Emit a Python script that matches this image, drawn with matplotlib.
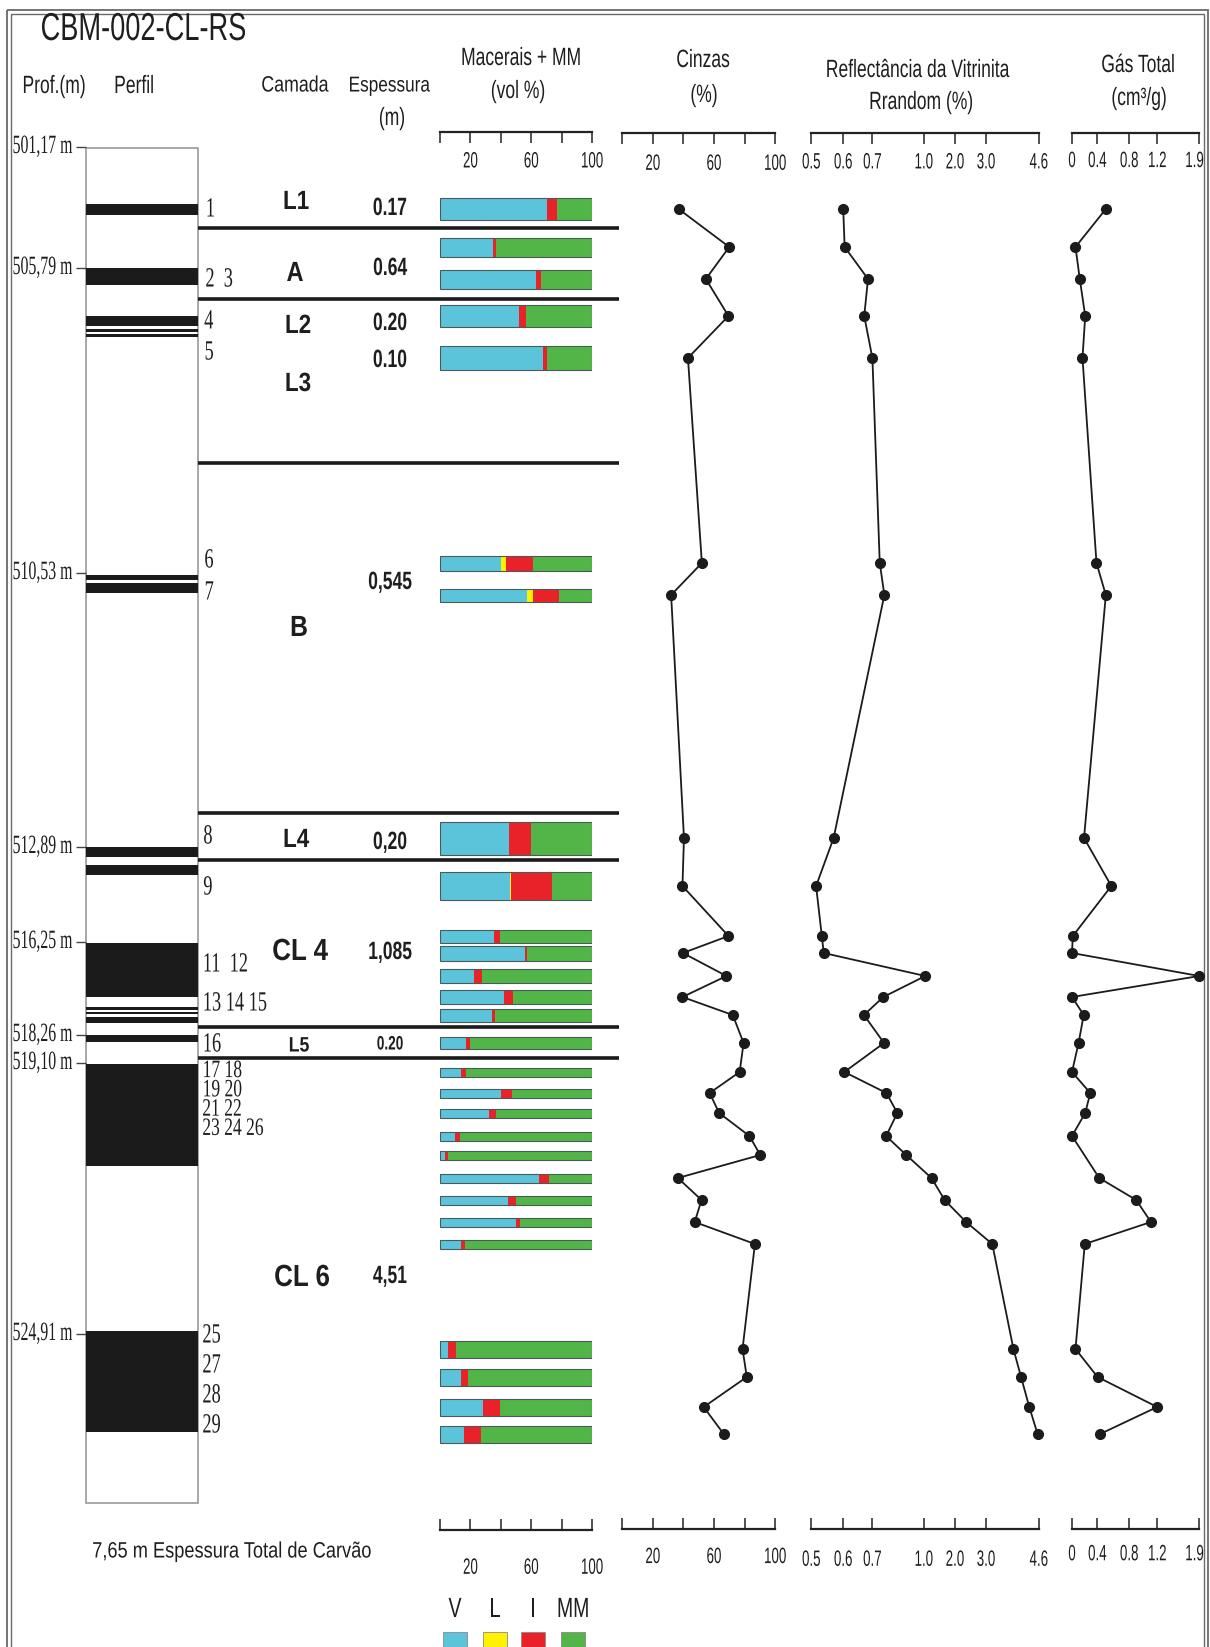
import numpy as np
import matplotlib
matplotlib.use("Agg")
import matplotlib.pyplot as plt
from matplotlib.patches import Rectangle
from matplotlib.patheffects import AbstractPathEffect
from matplotlib.transforms import Affine2D, ScaledTranslation

W, H = 1210, 1647

# ---- data -------------------------------------------------------------
# position of each analysed sample along the drawn log (pixel rows of the sheet)
log_pos = [209, 247, 279, 316, 358, 563, 595, 838, 886, 936, 953, 976, 997, 1015,
           1043, 1072, 1093, 1113, 1136, 1155, 1178, 1200, 1222, 1244,
           1349, 1377, 1407, 1434]

# macerals + mineral matter (vol %)
vit = [70.4, 35.0, 63.2, 52.0, 67.5, 40.0, 57.3, 45.7, 46.0, 35.5, 55.6, 22.2, 42.0, 34.2,
       17.2, 13.9, 40.4, 32.0, 9.9, 3.5, 65.1, 44.8, 50.3, 13.9, 5.1, 13.5, 28.3, 15.7]
lip = [0, 0, 0, 0, 0.5, 3.6, 3.6, 0, 0.5, 0, 0, 0, 0, 0,
       0, 0, 0, 0, 0, 0, 0, 0, 0, 0, 0, 0, 0, 0]
ine = [6.4, 2.0, 3.5, 4.6, 2.7, 17.8, 17.6, 14.4, 27.0, 3.9, 1.8, 5.2, 5.7, 1.8,
       2.6, 3.3, 7.1, 4.6, 3.1, 2.0, 6.8, 5.3, 2.4, 2.4, 5.3, 5.1, 11.5, 11.3]
mm = [23.2, 63.0, 33.3, 43.4, 29.3, 38.6, 21.5, 39.9, 26.5, 60.6, 42.6, 72.6, 52.3, 64.0,
      80.2, 82.8, 52.5, 63.4, 87.0, 94.5, 28.1, 49.9, 47.3, 83.7, 89.6, 81.4, 60.2, 73.0]

# ash (%)
cinzas = [36.9, 70.0, 54.7, 69.5, 43.0, 52.1, 32.0, 40.4, 39.4, 69.5, 39.7, 68.2, 39.4, 72.3,
          79.4, 76.8, 57.2, 63.4, 83.2, 90.3, 36.4, 51.9, 47.4, 86.8, 78.7, 81.5, 53.3, 66.4]

# vitrinite reflectance Rrandom (%)
refl = [0.600, 0.605, 0.685, 0.672, 0.700, 0.743, 0.770, 0.570, 0.515, 0.533, 0.539, 1.05,
        0.764, 0.671, 0.768, 0.604, 0.782, 0.846, 0.780, 0.898, 1.25, 1.67, 2.36, 3.19,
        3.83, 4.06, 4.31, 4.56]

# total gas (cm3/g), one sample without value
gas = [0.507, 0.055, 0.123, 0.209, 0.166, 0.387, 0.507, 0.190, 0.576, 0.013, 0.0, 1.9,
       0.0, 0.185, 0.104, 0.0, 0.289, 0.209, 0.0, np.nan, 0.424, 0.90, 1.11, 0.202,
       0.055, 0.404, 1.2, 0.435]

# coal intervals in the profile column (top, base)
coal_top = [204, 268, 316, 329, 334, 575, 583, 847, 865, 943, 1007, 1011.5, 1017, 1035, 1064, 1331]
coal_base = [215, 285, 326, 332, 337, 580, 593, 857, 875, 997, 1009.5, 1014, 1023, 1042, 1166, 1432]

layer_bounds = [228, 299, 463, 813, 860, 1027, 1058]

depth_txt = ["501,17 m", "505,79 m", "510,53 m", "512,89 m", "516,25 m",
             "518,26 m", "519,10 m", "524,91 m"]
depth_pos = [147, 268, 573, 847, 942, 1035, 1063, 1334]

refl_ticks = [0.5, 0.6, 0.7, 1.0, 2.0, 3.0, 4.6]
refl_spacing = [0, 31.9, 61.1, 112.4, 143.6, 174.7, 227.6]
gas_ticks = [0, 0.4, 0.8, 1.2, 1.9]
gas_spacing = [0, 25.3, 57.2, 85.2, 127.2]

# ---- style -------------------------------------------------------------
bar_h = [22, 19, 19, 22, 24, 15, 13, 33, 28, 13, 15, 14, 14, 13, 12,
         9, 9, 9, 9, 9, 9, 9, 9, 9, 17, 17, 17, 17]
C_V, C_L, C_I, C_MM = "#5cc4da", "#fff200", "#e9222a", "#52b548"
INK = "#1e1e1e"
SANS, SERIF = "Liberation Sans", "Liberation Serif"


class Narrow(AbstractPathEffect):
    """squeeze glyphs horizontally (the sheet uses condensed type)"""
    def __init__(self, sx=0.7, anchor="center"):
        super().__init__()
        self.sx, self.anchor = sx, anchor

    def draw_path(self, renderer, gc, tpath, affine, rgbFace=None):
        e = tpath.get_extents(affine)
        x0 = {"left": e.x0, "center": 0.5 * (e.x0 + e.x1), "right": e.x1}[self.anchor]
        sq = Affine2D().translate(-x0, 0).scale(self.sx, 1).translate(x0, 0)
        renderer.draw_path(gc, tpath, affine + sq, rgbFace)


def piecewise(vals, pos):
    vals = np.asarray(vals, float)
    pos = np.asarray(pos, float)

    def conv(v, a, b):
        v = np.asarray(v, float)
        out = np.interp(v, a, b)
        s0 = (b[1] - b[0]) / (a[1] - a[0])
        s1 = (b[-1] - b[-2]) / (a[-1] - a[-2])
        out = np.where(v < a[0], b[0] + (v - a[0]) * s0, out)
        out = np.where(v > a[-1], b[-1] + (v - a[-1]) * s1, out)
        return out
    return (lambda v: conv(v, vals, pos)), (lambda p: conv(p, pos, vals))


fig = plt.figure(figsize=(W / 100, H / 100), dpi=100)
base = fig.add_axes([0, 0, 1, 1])
base.set_xlim(0, W)
base.set_ylim(H, 0)
base.axis("off")


def label(x, y, s, size, sx=0.7, ha="center", family=SANS, weight="normal", **kw):
    base.text(x, y, s, fontsize=size, ha=ha, va="center", family=family,
              weight=weight, color=INK, path_effects=[Narrow(sx, ha)], **kw)


def column(x0, x1):
    ax = fig.add_axes([x0 / W, 0, (x1 - x0) / W, 1])
    ax.set_ylim(H, 0)
    ax.axis("off")
    return ax


def scale_bar(x0, x1, y, top, xlim, ticks, labels, pad, funcs=None):
    ax = fig.add_axes([x0 / W, 1 - y / H, (x1 - x0) / W, 0.0001])
    if funcs:
        ax.set_xscale("function", functions=funcs)
    ax.set_xlim(*xlim)
    for s in ("top", "left", "right"):
        ax.spines[s].set_visible(False)
    ax.spines["bottom"].set_linewidth(1.6)
    ax.spines["bottom"].set_color("#222222")
    ax.patch.set_visible(False)
    ax.set_yticks([])
    ax.set_xticks(ticks, labels)
    ax.tick_params(axis="x", direction="out" if top else "in", length=8, width=1.1,
                   pad=pad, labelsize=16, color="#222222", labelcolor=INK)
    tl = ax.get_xticklabels()
    for t in tl:
        t.set_family(SANS)
        t.set_path_effects([Narrow(0.6)])
    if x1 > 1190:   # last label sits against the frame
        last = tl[-1]
        last.set_ha("right")
        last.set_path_effects([Narrow(0.6, "right")])
        last.set_transform(last.get_transform()
                           + ScaledTranslation(5 / 100, 0, fig.dpi_scale_trans))


# ---- frame and headers ----------------------------------------------------
base.add_patch(Rectangle((7, 10), 1201, 1720, fill=False, ec="#6a6a6a", lw=1.3))
base.add_patch(Rectangle((11, 14), 1193, 1720, fill=False, ec="#6a6a6a", lw=1.0))

label(40, 30, "CBM-002-CL-RS", 28, ha="left")
label(54, 86, "Prof.(m)", 18)
label(134, 86, "Perfil", 18)
label(295, 86, "Camada", 16, sx=0.8)
label(389, 86, "Espessura", 15.5, sx=0.8)
label(392, 118, "(m)", 18)
label(521, 58, "Macerais + MM", 18)
label(518, 91, "(vol %)", 18)
label(703, 60, "Cinzas", 18)
label(704, 95, "(%)", 18)
label(917, 70, "Reflectância da Vitrinita", 18)
label(921, 102, "Rrandom (%)", 18)
label(1138, 65, "Gás Total", 18)
label(1139, 98, "(cm³/g)", 18)

# ---- depth column and profile ----------------------------------------------
for txt, yy in zip(depth_txt, depth_pos):
    label(12, yy, txt, 19, sx=0.6, ha="left", family=SERIF)
base.hlines(depth_pos, 76, 86, color="#444444", lw=1.0)

prof = column(86, 198)
prof.set_xlim(0, 1)
for t, b in zip(coal_top, coal_base):
    prof.axhspan(t, b, color="#1b1b1b", lw=0)
base.add_patch(Rectangle((86, 148), 112, 1355, fill=False, ec="#9a9a9a", lw=1.2))

base.hlines(layer_bounds, 198, 619, color="#1b1b1b", lw=2.6)

# sample numbers
for s, xx, yy in [("1", 205, 210), ("2  3", 205, 280), ("4", 204, 322), ("5", 204, 353),
                  ("6", 204, 561), ("7", 204, 593), ("8", 203, 837), ("9", 203, 888),
                  ("11  12", 202, 965), ("13 14 15", 202, 1004), ("16", 202, 1045),
                  ("25", 202, 1336), ("27", 202, 1366), ("28", 202, 1396), ("29", 202, 1426)]:
    label(xx, yy, s, 20, sx=0.66, ha="left", family=SERIF)
label(202, 1100, "17 18\n19 20\n21 22\n23 24 26", 18, sx=0.7, ha="left",
      family=SERIF, linespacing=0.84)

# layer names and thicknesses
for s, xx, yy, fs in [("L1", 296, 202, 19), ("A", 295, 274, 20), ("L2", 298, 326, 19),
                      ("L3", 298, 384, 19), ("B", 299, 628, 21), ("L4", 296, 840, 19),
                      ("CL 4", 300, 952, 22), ("L5", 299, 1046, 15), ("CL 6", 302, 1278, 22)]:
    label(xx, yy, s, fs, sx=0.85, weight="bold")
for s, yy, fs in [("0.17", 208, 18), ("0.64", 268, 18), ("0.20", 323, 18), ("0.10", 360, 18),
                  ("0,545", 582, 18), ("0,20", 842, 18), ("1,085", 952, 18),
                  ("0.20", 1045, 14), ("4,51", 1276, 18)]:
    label(390, yy, s, fs, sx=0.7, weight="bold")

# ---- macerals bars ----------------------------------------------------------
mac = column(440, 592)
mac.set_xlim(0, 100)
left = np.zeros(len(vit))
for vals, c in [(vit, C_V), (lip, C_L), (ine, C_I), (mm, C_MM)]:
    mac.barh(log_pos, vals, height=bar_h, left=left, color=c, lw=0)
    left = left + np.asarray(vals)
mac.barh(log_pos, left, height=bar_h, fill=False, edgecolor="#4a5a5a", lw=0.8)

# ---- profiles ------------------------------------------------------------------
line_kw = dict(color="#1b1b1b", lw=1.3, marker="o", ms=7, clip_on=False)

cin = column(622.2, 775.1)
cin.set_xlim(0, 100)
cin.plot(cinzas, log_pos, **line_kw)

ref_funcs = piecewise(refl_ticks, refl_spacing)
ref = column(811.3, 1038.9)
ref.set_xscale("function", functions=ref_funcs)
ref.set_xlim(0.5, 4.6)
ref.plot(refl, log_pos, **line_kw)

gas_funcs = piecewise(gas_ticks, gas_spacing)
gs = column(1072, 1199.2)
gs.set_xscale("function", functions=gas_funcs)
gs.set_xlim(0, 1.9)
g = np.asarray(gas, float)
ok = ~np.isnan(g)
gs.plot(g[ok], np.asarray(log_pos)[ok], **line_kw)

# ---- scale bars (top and bottom) -------------------------------------------------
lin_ticks = [0, 20, 40, 60, 80, 100]
lin_labels = ["", "20", "", "60", "", "100"]
refl_labels = ["0.5", "0.6", "0.7", "1.0", "2.0", "3.0", "4.6"]
gas_labels = ["0", "0.4", "0.8", "1.2", "1.9"]

scale_bar(440, 592, 132, True, (0, 100), lin_ticks, lin_labels, 6)
scale_bar(622.2, 775.1, 133, True, (0, 100), lin_ticks, lin_labels, 7)
scale_bar(811.3, 1038.9, 133, True, (0.5, 4.6), refl_ticks, refl_labels, 6, ref_funcs)
scale_bar(1072, 1199.2, 133, True, (0, 1.9), gas_ticks, gas_labels, 5, gas_funcs)

scale_bar(440, 592, 1530, False, (0, 100), lin_ticks, lin_labels, 20)
scale_bar(622.2, 775.1, 1529, False, (0, 100), lin_ticks, lin_labels, 13)
scale_bar(811.3, 1038.9, 1529, False, (0.5, 4.6), refl_ticks, refl_labels, 15, ref_funcs)
scale_bar(1072, 1199.2, 1529, False, (0, 1.9), gas_ticks, gas_labels, 11, gas_funcs)

# ---- footer ---------------------------------------------------------------------
label(92, 1552, "7,65 m Espessura Total de Carvão", 16, sx=0.82, ha="left")
for s, xc, c in [("V", 455, C_V), ("L", 495, C_L), ("I", 533, C_I), ("MM", 573, C_MM)]:
    label(xc, 1610, s, 20, sx=0.7)
    base.add_patch(Rectangle((xc - 12, 1632), 24, 30, fc=c, ec="#8a8a8a", lw=0.6))

fig.savefig("out.png", dpi=100)
